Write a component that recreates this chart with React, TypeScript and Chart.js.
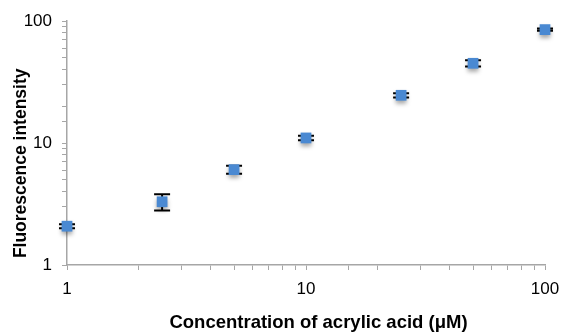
import React, { useEffect, useRef } from "react";
import { Chart, registerables } from "chart.js";

Chart.register(...registerables);

const concentrations = [1, 2.5, 5, 10, 25, 50, 100];
const intensities = [2.08, 3.3, 6.05, 11.0, 24.6, 45.0, 85.0];
const errors = [0.08, 0.5, 0.45, 0.45, 1.0, 2.6, 2.0];
const majorTicks = [1, 10, 100];
const xTitle = "Concentration of acrylic acid (μM)";
const yTitle = "Fluorescence intensity";

const FONT = "Liberation Sans, Arial, sans-serif";

const errorBarPlugin = {
  id: "errorBars",
  beforeDatasetsDraw(chart: any) {
    const ctx = chart.ctx;
    const xs = chart.scales.x;
    const ys = chart.scales.y;
    ctx.save();
    ctx.strokeStyle = "#000000";
    ctx.lineWidth = 2;
    concentrations.forEach((c, i) => {
      const px = xs.getPixelForValue(c);
      const top = ys.getPixelForValue(intensities[i] + errors[i]);
      const bot = ys.getPixelForValue(intensities[i] - errors[i]);
      ctx.beginPath();
      ctx.moveTo(px, top);
      ctx.lineTo(px, bot);
      ctx.moveTo(px - 8, top);
      ctx.lineTo(px + 8, top);
      ctx.moveTo(px - 8, bot);
      ctx.lineTo(px + 8, bot);
      ctx.stroke();
    });
    ctx.restore();
  },
  beforeDatasetDraw(chart: any) {
    const ctx = chart.ctx;
    ctx.save();
    ctx.shadowColor = "rgba(0,0,0,0.35)";
    ctx.shadowBlur = 4;
    ctx.shadowOffsetX = 0;
    ctx.shadowOffsetY = 3;
  },
  afterDatasetDraw(chart: any) {
    chart.ctx.restore();
  },
  afterDraw(chart: any) {
    const ctx = chart.ctx;
    ctx.save();
    ctx.fillStyle = "#000000";
    ctx.textAlign = "center";
    ctx.textBaseline = "middle";
    ctx.font = `bold 18.5px ${FONT}`;
    ctx.fillText(xTitle, 318.5, 322.5);
    ctx.translate(21.5, 163.3);
    ctx.rotate(-Math.PI / 2);
    ctx.font = `bold 17.5px ${FONT}`;
    ctx.fillText(yTitle, 0, 0);
    ctx.restore();
  },
};

export default function App() {
  const ref = useRef<HTMLCanvasElement>(null);
  useEffect(() => {
    document.body.style.margin = "0";
    const axisColor = "#a6a6a6";
    const chart = new Chart(ref.current!, {
      type: "scatter",
      data: {
        datasets: [
          {
            data: concentrations.map((c, i) => ({ x: c, y: intensities[i] })),
            pointStyle: "rect",
            pointRadius: 7.6,
            pointHoverRadius: 7.6,
            backgroundColor: "#4a89d2",
            borderColor: "#4a89d2",
            borderWidth: 0,
            clip: false as any,
          },
        ],
      },
      options: {
        animation: false,
        responsive: false,
        layout: { padding: { top: 21, right: 18, left: 0, bottom: 0 } },
        plugins: { legend: { display: false }, tooltip: { enabled: false } },
        scales: {
          x: {
            type: "logarithmic",
            min: 1,
            max: 100,
            afterFit: (s: any) => {
              s.height = 67;
              s.paddingLeft = 0;
              s.paddingRight = 0;
            },
            border: { color: axisColor, width: 1.5 },
            grid: { drawOnChartArea: false, drawTicks: true, tickLength: 5, color: axisColor, lineWidth: 1 },
            ticks: {
              autoSkip: false,
              maxRotation: 0,
              padding: 9,
              color: "#000000",
              font: { family: FONT, size: 17 },
              callback: (v: any) => (majorTicks.includes(Number(v)) ? String(v) : ""),
            },
            title: { display: false },
          },
          y: {
            type: "logarithmic",
            min: 1,
            max: 100,
            afterFit: (s: any) => {
              s.width = 67;
              s.paddingTop = 0;
              s.paddingBottom = 0;
            },
            border: { color: axisColor, width: 1.5 },
            grid: { drawOnChartArea: false, drawTicks: true, tickLength: 5, color: axisColor, lineWidth: 1 },
            ticks: {
              autoSkip: false,
              padding: 10,
              color: "#000000",
              font: { family: FONT, size: 17 },
              callback: (v: any) => (majorTicks.includes(Number(v)) ? String(v) : ""),
            },
            title: { display: false },
          },
        },
      },
      plugins: [errorBarPlugin],
    });
    return () => chart.destroy();
  }, []);
  return (
    <div style={{ width: 563, height: 332 }}>
      <canvas ref={ref} width={563} height={332} />
    </div>
  );
}
